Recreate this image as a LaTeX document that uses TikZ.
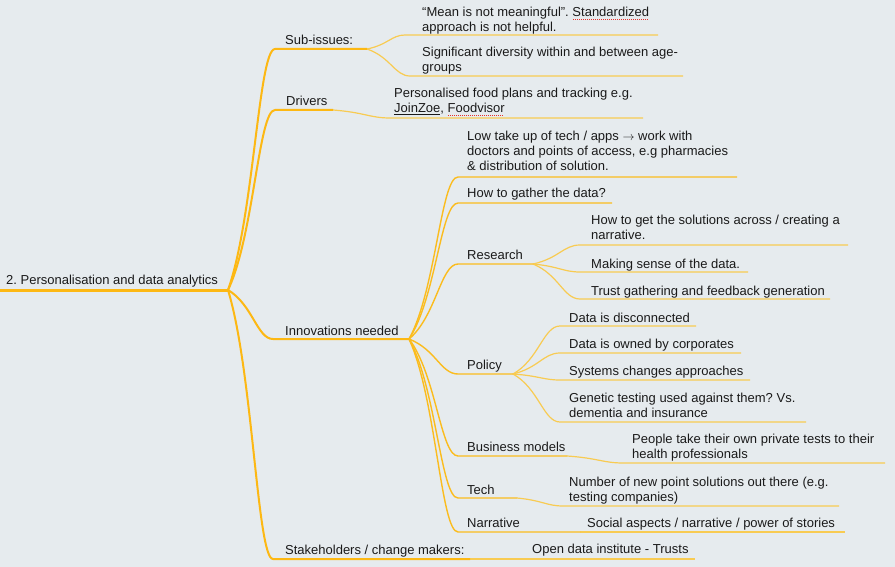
\documentclass[tikz,border=0pt]{standalone}
\usepackage{fontspec}
\setmainfont{Liberation Sans}
\usetikzlibrary{calc}
\frenchspacing
\definecolor{bg}{HTML}{E6EBEE}
\definecolor{brc}{HTML}{FDB813}
\definecolor{midc}{HTML}{FBBC1E}
\definecolor{leafc}{HTML}{F8CB52}
\definecolor{txtc}{HTML}{1A1A1A}
\definecolor{spellc}{HTML}{E8302A}
\newsavebox\myulbox
\newcommand\spellerr[1]{\sbox\myulbox{#1}\rlap{\hbox to \wd\myulbox{\color{spellc}\leaders\hbox to 2pt{\hss\rule[-3pt]{1.1pt}{1.1pt}\hss}\hfil}}\usebox\myulbox}
\newcommand\ulineB[1]{\sbox\myulbox{#1}\rlap{\rule[-2.2pt]{\wd\myulbox}{0.7pt}}\usebox\myulbox}
\newcommand\twoL[2]{\vtop{\hbox{#1}\hbox{#2}}}
\newcommand\threeL[3]{\vtop{\hbox{#1}\hbox{#2}\hbox{#3}}}
\begin{document}
\begin{tikzpicture}[x=1pt,y=-1pt,
  txt/.style={anchor=base west, inner sep=0pt, text=txtc, font=\fontsize{13}{15}\selectfont},
  rootl/.style={draw=brc, line width=3pt},
  l1/.style={draw=brc, line width=2pt},
  l2/.style={draw=midc, line width=1.4pt},
  lf/.style={draw=leafc, line width=1.2pt},
  mm/.style={to path={let \p1=(\tikztostart), \p2=(\tikztotarget) in
     .. controls ({\x1+0.55*(\x2-\x1)},{\y1+0.3*(\y2-\y1)}) and ({\x1+0.65*(\x2-\x1)},{\y2}) .. (\tikztotarget) \tikztonodes}}]
\fill[bg] (0,0) rectangle (895,567);
\useasboundingbox (0,0) rectangle (895,567);

% text nodes
\node[txt] (root) at (6,284) {2. Personalisation and data analytics};
\node[txt] (subs) at (285,45) {Sub-issues:};
\node[txt] (drv) at (286,106) {Drivers};
\node[txt] (inn) at (285,335) {Innovations needed};
\node[txt] (stk) at (285,554) {Stakeholders / change makers:};

\node[txt] (sc1) at (422,17) {\twoL{“Mean is not meaningful”. \spellerr{Standardized}}{approach is not helpful.}};
\node[txt] (sc2) at (422,57) {\twoL{Significant diversity within and between age-}{groups}};
\node[txt] (dc1) at (394,98) {\twoL{Personalised food plans and tracking e.g.}{\ulineB{JoinZoe}, \spellerr{Foodvisor}}};

\node[txt] (low) at (467,141) {\threeL{Low take up of tech / apps $\rightarrow$ work with}{doctors and points of access, e.g pharmacies}{\& distribution of solution.}};
\node[txt] (gat) at (467,197) {How to gather the data?};
\node[txt] (res) at (467,259) {Research};
\node[txt] (r1) at (591,225) {\twoL{How to get the solutions across / creating a}{narrative.}};
\node[txt] (r2) at (591,268) {Making sense of the data.};
\node[txt] (r3) at (591,295) {Trust gathering and feedback generation};
\node[txt] (pol) at (467,369) {Policy};
\node[txt] (p1) at (569,322) {Data is disconnected};
\node[txt] (p2) at (569,348) {Data is owned by corporates};
\node[txt] (p3) at (569,375) {Systems changes approaches};
\node[txt] (p4) at (569,402) {\twoL{Genetic testing used against them? Vs.}{dementia and insurance}};
\node[txt] (bus) at (467,451) {Business models};
\node[txt] (b1) at (632,443) {\twoL{People take their own private tests to their}{health professionals}};
\node[txt] (tec) at (467,494) {Tech};
\node[txt] (t1) at (569,486) {\twoL{Number of new point solutions out there (e.g.}{testing companies)}};
\node[txt] (nar) at (467,527) {Narrative};
\node[txt] (n1) at (587,527) {Social aspects / narrative / power of stories};
\node[txt] (k1) at (532,553) {Open data institute - Trusts};

% coordinates
\coordinate (r0) at (0,290); \coordinate (h0) at (228,290);
\coordinate (s0) at (275,49); \coordinate (sh) at (367,49);
\coordinate (d0) at (275,110); \coordinate (dh) at (333,110);
\coordinate (i0) at (273,339); \coordinate (ih) at (409,339);
\coordinate (k0) at (273,559); \coordinate (kh) at (470,559);

\coordinate (sc1a) at (405,35); \coordinate (sc1b) at (658,35);
\coordinate (sc2a) at (410,76); \coordinate (sc2b) at (683,76);
\coordinate (dc1a) at (390,118); \coordinate (dc1b) at (643,118);

\coordinate (lowa) at (458,177); \coordinate (lowb) at (737,177);
\coordinate (gata) at (458,203); \coordinate (gatb) at (612,203);
\coordinate (resa) at (458,264); \coordinate (rh) at (533,264);
\coordinate (r1a) at (580,245); \coordinate (r1b) at (848,245);
\coordinate (r2a) at (580,272); \coordinate (r2b) at (748,272);
\coordinate (r3a) at (580,299); \coordinate (r3b) at (830,299);
\coordinate (pola) at (458,374); \coordinate (ph) at (513,374);
\coordinate (p1a) at (560,326); \coordinate (p1b) at (696,326);
\coordinate (p2a) at (560,353); \coordinate (p2b) at (741,353);
\coordinate (p3a) at (560,380); \coordinate (p3b) at (750,380);
\coordinate (p4a) at (560,422); \coordinate (p4b) at (806,422);
\coordinate (busa) at (458,456); \coordinate (bh) at (567,456);
\coordinate (b1a) at (623,463); \coordinate (b1b) at (885,463);
\coordinate (teca) at (458,498); \coordinate (th) at (517,498);
\coordinate (t1a) at (563,506); \coordinate (t1b) at (839,506);
\coordinate (nara) at (458,532); \coordinate (nh) at (580,532);
\coordinate (n1b) at (845,532);
\coordinate (k1b) at (695,559);

% leaves
\draw[lf] (sh) to[mm] (sc1a) -- (sc1b);
\draw[lf] (sh) to[mm] (sc2a) -- (sc2b);
\draw[lf] (dh) to[mm] (dc1a) -- (dc1b);
\draw[lf] (rh) to[mm] (r1a) -- (r1b);
\draw[lf] (rh) to[mm] (r2a) -- (r2b);
\draw[lf] (rh) to[mm] (r3a) -- (r3b);
\draw[lf] (ph) to[mm] (p1a) -- (p1b);
\draw[lf] (ph) to[mm] (p2a) -- (p2b);
\draw[lf] (ph) to[mm] (p3a) -- (p3b);
\draw[lf] (ph) to[mm] (p4a) -- (p4b);
\draw[lf] (bh) to[mm] (b1a) -- (b1b);
\draw[lf] (th) to[mm] (t1a) -- (t1b);
\draw[lf] (nh) -- (n1b);
\draw[lf] (kh) -- (k1b);

% innovation children
\draw[l2] (ih) to[mm] (lowa) -- (lowb);
\draw[l2] (ih) to[mm] (gata) -- (gatb);
\draw[l2] (ih) to[mm] (resa) -- (rh);
\draw[l2] (ih) to[mm] (pola) -- (ph);
\draw[l2] (ih) to[mm] (busa) -- (bh);
\draw[l2] (ih) to[mm] (teca) -- (th);
\draw[l2] (ih) to[mm] (nara) -- (nh);

% main branches
\draw[l1] (h0) to[mm] (s0) -- (sh);
\draw[l1] (h0) to[mm] (d0) -- (dh);
\draw[l1] (h0) to[mm] (i0) -- (ih);
\draw[l1] (h0) to[mm] (k0) -- (kh);
\draw[rootl] (r0) -- (h0);
\end{tikzpicture}
\end{document}
